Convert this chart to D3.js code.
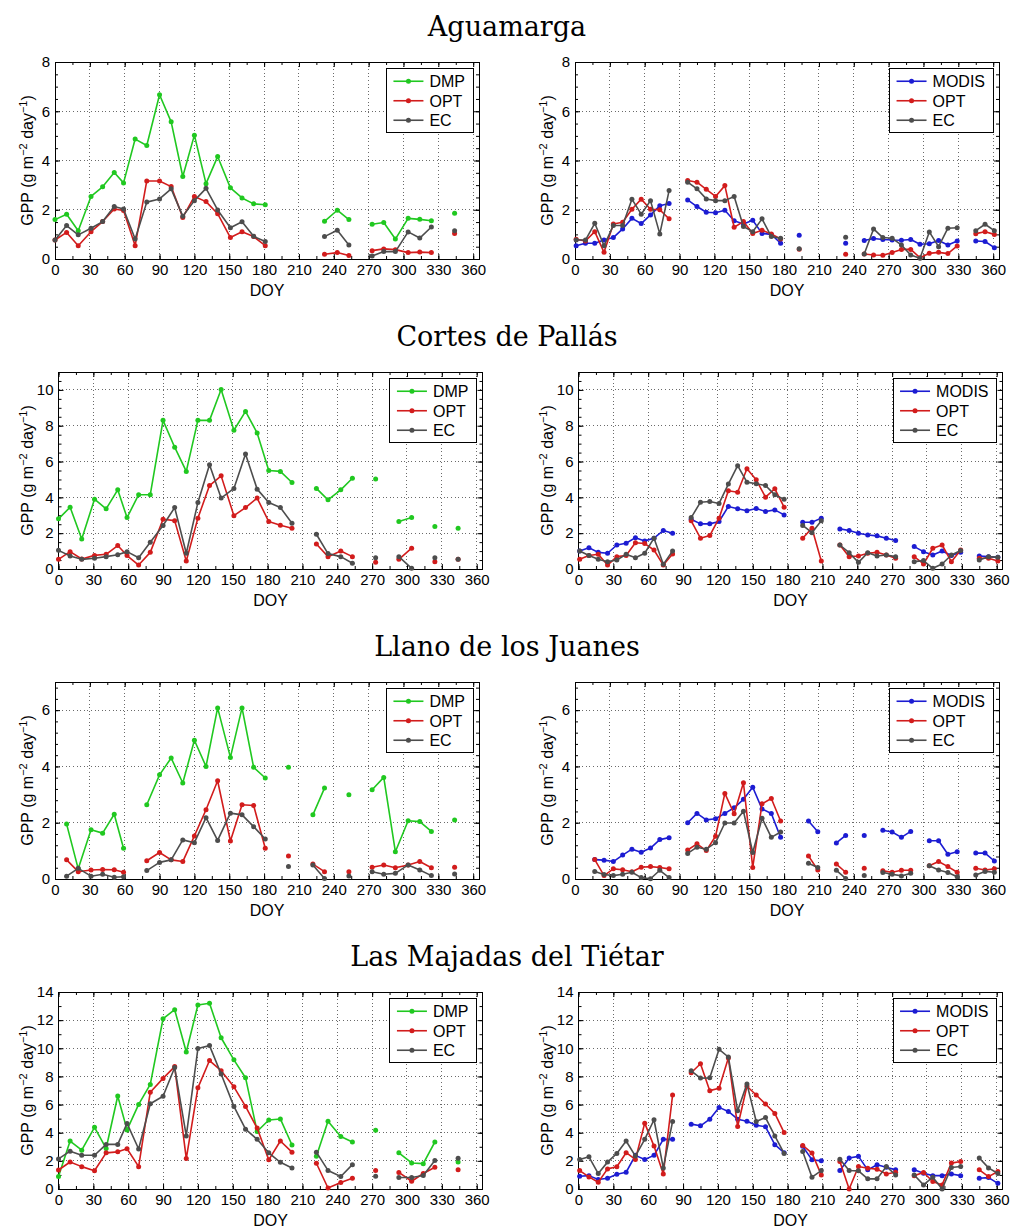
<!DOCTYPE html>
<html>
<head>
<meta charset="utf-8">
<script src="https://cdn.jsdelivr.net/npm/d3@7"></script>
<style>
  body { margin: 0; background: #ffffff; }
</style>
</head>
<body>
<svg id="fig" width="1012" height="1228"></svg>
<script>
// ---- Day-of-year positions of the composites ----
// 10-day (dekadal) composites
const DEKAD_DOY = [0,10,20,31,41,51,59,69,79,90,100,110,120,130,140,151,161,171,181,191,201,212,222,232,243,253,263,273,283,293,304,314,324,334,344,354];
// 8-day composites
const MODIS_DOY = [1,9,17,25,33,41,49,57,65,73,81,89,97,105,113,121,129,137,145,153,161,169,177,185,193,201,209,217,225,233,241,249,257,265,273,281,289,297,305,313,321,329,337,345,353,361];

const X_TICKS = [0,30,60,90,120,150,180,210,240,270,300,330,360];

const SITES = ["Aguamarga", "Cortes de Pallás", "Llano de los Juanes", "Las Majadas del Tiétar"];
const Y_MAX = [8, 11, 7, 14];
const Y_TICKS = [[0,2,4,6,8], [0,2,4,6,8,10], [0,2,4,6], [0,2,4,6,8,10,12,14]];
const Y_MINOR_STEP = [0.5, 0.5, 0.4, 1];

// ---- Aguamarga ----
const agu_DMP = [1.60,1.82,1.15,2.54,2.93,3.51,3.09,4.87,4.61,6.67,5.57,3.35,5.03,3.06,4.16,2.89,2.48,2.24,2.20,null,null,null,null,1.53,1.98,1.60,null,1.41,1.48,0.81,1.65,1.61,1.55,null,1.86,null];
const agu_OPT_dek = [0.77,1.08,0.54,1.11,1.52,2.03,1.97,0.54,3.17,3.17,2.94,1.69,2.54,2.33,1.84,0.87,1.11,0.91,0.54,null,null,null,null,0.19,0.26,0.14,null,0.34,0.41,0.38,0.26,0.28,0.26,null,1.04,null];
const agu_EC_dek = [0.77,1.36,0.98,1.25,1.52,2.13,2.03,0.81,2.31,2.44,2.85,1.74,2.37,2.87,1.99,1.27,1.51,0.92,0.71,null,null,null,null,0.91,1.17,0.57,null,0.12,0.30,0.30,1.10,0.85,1.30,null,1.15,null];
const agu_MODIS = [0.54,0.64,0.64,0.77,0.87,1.22,1.65,1.44,1.79,2.16,2.25,null,2.40,2.13,1.90,1.88,1.98,1.55,1.42,1.57,1.04,1.00,0.64,null,0.96,null,null,null,null,0.64,null,0.75,0.83,0.79,0.77,0.76,0.79,0.60,0.62,0.75,0.57,0.73,null,0.73,0.71,0.46];
const agu_OPT_8d = [0.80,0.73,1.11,0.27,1.42,1.49,2.02,2.43,2.02,2.00,1.63,null,3.19,3.12,2.83,2.54,2.98,1.29,1.52,1.04,1.17,1.02,0.81,null,0.40,null,null,null,null,0.19,null,0.20,0.16,0.15,0.26,0.39,0.39,0.05,0.23,0.27,0.22,0.53,null,1.03,1.11,1.00];
const agu_EC_8d = [0.77,0.77,1.45,0.54,1.36,1.36,2.43,1.82,2.37,1.02,2.78,null,3.12,2.85,2.44,2.37,2.37,2.54,1.32,1.11,1.63,0.91,0.84,null,0.42,null,null,null,null,0.88,null,0.20,1.22,0.87,0.84,0.57,0.16,0.03,1.10,0.50,1.25,1.27,null,1.15,1.41,1.15];

// ---- Cortes de Pallás ----
const cor_DMP = [2.80,3.45,1.68,3.90,3.36,4.42,2.87,4.15,4.15,8.30,6.80,5.45,8.30,8.30,10.02,7.75,8.80,7.60,5.50,5.45,4.83,null,4.50,3.86,4.42,5.07,null,5.02,null,2.65,2.87,null,2.37,null,2.28,null];
const cor_OPT_dek = [0.54,0.97,0.56,0.76,0.82,1.31,0.75,0.22,0.93,2.78,2.70,0.45,2.84,4.66,5.20,2.98,3.43,3.96,2.65,2.44,2.28,null,1.40,0.69,1.00,0.69,null,0.37,null,0.54,1.16,null,0.41,null,0.54,null];
const cor_EC_dek = [1.04,0.73,0.54,0.60,0.69,0.80,0.97,0.63,1.49,2.43,3.43,0.88,3.71,5.82,3.96,4.50,6.42,4.46,3.71,3.43,2.56,null,1.94,0.86,0.69,0.32,null,0.63,null,0.69,0.04,null,0.63,null,0.54,null];
const cor_MODIS = [1.01,1.19,0.93,0.88,1.34,1.44,1.75,1.57,1.72,2.15,2.00,null,2.78,2.52,2.52,2.65,3.49,3.36,3.25,3.38,3.21,3.30,3.02,null,2.61,2.61,2.84,null,2.24,2.15,2.00,1.90,1.85,1.72,1.59,null,1.25,0.97,0.78,1.01,0.75,0.93,null,0.73,0.69,0.65];
const cor_OPT_8d = [0.54,0.75,0.82,0.22,0.69,0.75,1.47,1.42,1.06,0.22,0.84,null,2.69,1.72,1.87,2.84,4.37,4.29,5.60,4.98,4.01,4.48,3.45,null,1.72,2.28,0.45,null,1.34,0.69,0.73,0.88,0.93,0.78,0.60,null,0.69,0.28,1.16,1.34,0.41,1.06,null,0.60,0.60,0.45];
const cor_EC_8d = [1.01,0.75,0.54,0.41,0.50,0.82,0.63,0.88,1.72,0.26,1.01,null,2.87,3.73,3.77,3.66,4.74,5.77,4.85,4.76,4.66,4.14,3.90,null,2.43,2.03,2.70,null,1.34,0.91,0.37,0.91,0.73,0.78,0.69,null,0.41,0.47,0.04,0.28,0.78,1.03,null,0.50,0.69,0.65];

// ---- Llano de los Juanes ----
const lla_DMP = [null,1.95,0.36,1.75,1.63,2.30,1.09,null,2.64,3.70,4.30,3.41,4.93,4.00,6.08,4.32,6.08,3.97,3.59,null,3.97,null,2.28,3.23,null,2.99,null,3.17,3.61,0.97,2.07,2.04,1.69,null,2.10,null];
const lla_OPT_dek = [null,0.68,0.26,0.32,0.34,0.33,0.24,null,0.65,0.94,0.68,0.62,1.53,2.46,3.49,1.35,2.64,2.61,1.09,null,0.82,null,0.53,0.26,null,0.26,null,0.42,0.50,0.40,0.50,0.62,0.40,null,0.42,null];
const lla_EC_dek = [null,0.10,0.38,0.10,0.17,0.06,0.08,null,0.30,0.59,0.68,1.39,1.29,2.18,1.37,2.34,2.28,1.86,1.42,null,0.44,null,0.50,0.02,null,0.11,null,0.26,0.17,0.20,0.50,0.32,0.12,null,0.18,null];
const lla_MODIS = [null,null,0.69,0.67,0.62,0.85,1.06,0.95,1.10,1.40,1.47,null,2.00,2.33,2.10,2.14,2.33,2.53,2.83,3.26,2.49,2.33,1.48,null,null,2.06,1.68,null,1.28,1.55,null,1.55,null,1.73,1.67,1.48,1.69,null,1.36,1.36,0.88,0.97,null,0.92,0.92,0.64];
const lla_OPT_8d = [null,null,0.69,0.12,0.36,0.33,0.26,0.42,0.44,0.41,0.36,null,1.03,1.25,1.01,1.52,3.04,2.32,3.42,0.41,2.67,2.86,2.06,null,null,0.82,0.32,null,0.53,0.24,null,0.38,null,0.29,0.24,0.31,0.31,null,0.47,0.62,0.44,0.24,null,0.38,0.32,0.36];
const lla_EC_8d = [null,null,0.27,0.16,0.12,0.17,0.24,0.05,0.01,0.31,0.05,null,0.91,1.13,1.06,1.29,1.99,1.99,2.41,0.94,2.16,1.48,1.67,null,null,0.56,0.41,null,0.31,0.02,null,0.12,null,0.23,0.17,0.11,0.20,null,0.47,0.32,0.23,0.08,null,0.14,0.27,0.24];

// ---- Las Majadas del Tiétar ----
const maj_DMP = [0.89,3.41,2.76,4.38,2.88,6.61,4.20,6.01,7.43,12.10,12.74,9.74,13.08,13.20,10.75,9.18,7.91,4.09,4.90,4.98,3.13,null,2.33,4.81,3.73,3.34,null,4.18,null,2.57,1.85,1.80,3.34,null,1.92,null];
const maj_OPT_dek = [1.35,1.92,1.59,1.30,2.57,2.64,2.86,1.59,6.88,7.86,8.70,2.16,7.19,9.13,8.41,7.26,5.87,4.33,2.07,3.41,2.62,null,1.83,0.07,0.46,0.77,null,1.32,null,1.18,0.55,1.10,1.54,null,1.37,null];
const maj_EC_dek = [2.14,2.69,2.40,2.40,3.17,3.17,4.66,2.84,6.06,6.59,8.63,3.77,9.98,10.19,8.17,5.87,4.25,3.53,2.57,1.90,1.49,null,2.62,1.32,0.89,1.73,null,0.91,null,0.82,0.82,0.96,2.02,null,2.19,null];
const maj_MODIS = [0.91,0.95,0.67,0.76,1.05,1.19,2.39,2.10,2.39,3.53,3.53,null,4.61,4.49,4.96,5.80,5.51,4.96,4.82,4.53,4.42,3.15,2.58,null,3.03,2.08,2.00,null,1.31,2.20,2.32,1.36,1.72,1.55,1.36,null,1.36,1.12,0.95,0.95,1.07,0.95,null,0.76,0.81,0.40];
const maj_OPT_8d = [1.31,0.86,0.48,1.43,1.58,2.58,2.10,4.68,3.05,1.07,6.68,null,8.26,8.90,6.99,7.16,9.31,4.44,7.30,6.68,6.04,5.37,4.01,null,3.10,2.55,1.00,null,1.96,0.00,1.60,1.48,1.41,1.07,1.19,null,0.95,1.17,0.53,0.29,1.84,1.96,null,1.36,0.88,1.24];
const maj_EC_8d = [2.10,2.29,1.10,1.91,2.53,3.41,2.34,3.53,4.92,1.50,4.80,null,8.40,7.88,7.90,9.93,9.38,5.56,7.47,4.80,5.08,3.77,2.53,null,2.67,0.84,1.31,null,2.12,1.31,1.29,0.72,0.72,1.60,1.00,null,1.00,0.29,0.84,0.00,1.53,1.60,null,2.20,1.50,1.10];

const COLORS = { DMP: "#20c820", MODIS: "#1c1cd2", OPT: "#d21c1c", EC: "#4d4d4d" };

// Series shown in each site's left (dekadal) and right (8-day) panel
const PANELS = [
  { left:  [["DMP", agu_DMP], ["OPT", agu_OPT_dek], ["EC", agu_EC_dek]],
    right: [["MODIS", agu_MODIS], ["OPT", agu_OPT_8d], ["EC", agu_EC_8d]] },
  { left:  [["DMP", cor_DMP], ["OPT", cor_OPT_dek], ["EC", cor_EC_dek]],
    right: [["MODIS", cor_MODIS], ["OPT", cor_OPT_8d], ["EC", cor_EC_8d]] },
  { left:  [["DMP", lla_DMP], ["OPT", lla_OPT_dek], ["EC", lla_EC_dek]],
    right: [["MODIS", lla_MODIS], ["OPT", lla_OPT_8d], ["EC", lla_EC_8d]] },
  { left:  [["DMP", maj_DMP], ["OPT", maj_OPT_dek], ["EC", maj_EC_dek]],
    right: [["MODIS", maj_MODIS], ["OPT", maj_OPT_8d], ["EC", maj_EC_8d]] }
];

// ---- layout ----
const PLOT_W = 424, PLOT_H = 197;
const ROW_TOP = [62, 372, 682, 992];
const LEFT_X = [55, 58.5, 55, 58.5];
const COL_SHIFT = 520;
const FONT = 15;
const SANS = "Liberation Sans, Arial, sans-serif";
const SERIF = "DejaVu Serif, serif";

const svg = d3.select("#fig").style("font-family", SANS);
svg.append("rect").attr("width", 1012).attr("height", 1228).attr("fill", "#fff");

function drawPanel(x0, y0, row, series, days, labelX) {
  const g = svg.append("g");
  const x = d3.scaleLinear().domain([0, 365]).range([x0, x0 + PLOT_W]);
  const y = d3.scaleLinear().domain([0, Y_MAX[row]]).range([y0 + PLOT_H, y0]);
  const yMinor = d3.range(0, Y_MAX[row] + 1e-9, Y_MINOR_STEP[row]).map(v => +v.toFixed(3));
  const xMinor = d3.range(0, 366, 15);

  // dotted grid at the major ticks
  const grid = g.append("g").attr("stroke", "#6a6a6a").attr("stroke-width", 1)
    .attr("stroke-dasharray", "1,2.6").attr("shape-rendering", "crispEdges");
  X_TICKS.forEach(t => grid.append("line")
    .attr("x1", x(t)).attr("x2", x(t)).attr("y1", y0).attr("y2", y0 + PLOT_H));
  Y_TICKS[row].forEach(t => grid.append("line")
    .attr("x1", x0).attr("x2", x0 + PLOT_W).attr("y1", y(t)).attr("y2", y(t)));

  // axes with inward ticks, mirrored on the top and right sides
  const addAxis = (gen, tr, label) => {
    const a = g.append("g").attr("transform", tr).call(gen);
    a.select(".domain").remove();
    a.selectAll("line").attr("stroke", "#000");
    a.selectAll("text").attr("font-size", FONT).attr("fill", "#000").style("font-family", SANS);
    if (!label) a.selectAll("text").remove();
    return a;
  };
  const bottom = `translate(0,${y0 + PLOT_H})`, top = `translate(0,${y0})`;
  const left = `translate(${x0},0)`, right = `translate(${x0 + PLOT_W},0)`;
  addAxis(d3.axisBottom(x).tickValues(X_TICKS).tickSize(-5).tickPadding(5).tickFormat(d3.format("d")), bottom, true);
  addAxis(d3.axisBottom(x).tickValues(xMinor).tickSize(-3).tickFormat(""), bottom, false);
  addAxis(d3.axisTop(x).tickValues(X_TICKS).tickSize(-5).tickFormat(""), top, false);
  addAxis(d3.axisTop(x).tickValues(xMinor).tickSize(-3).tickFormat(""), top, false);
  addAxis(d3.axisLeft(y).tickValues(Y_TICKS[row]).tickSize(-5).tickPadding(5).tickFormat(d3.format("d")), left, true);
  addAxis(d3.axisLeft(y).tickValues(yMinor).tickSize(-3).tickFormat(""), left, false);
  addAxis(d3.axisRight(y).tickValues(Y_TICKS[row]).tickSize(-5).tickFormat(""), right, false);
  addAxis(d3.axisRight(y).tickValues(yMinor).tickSize(-3).tickFormat(""), right, false);

  g.append("rect").attr("x", x0).attr("y", y0).attr("width", PLOT_W).attr("height", PLOT_H)
    .attr("fill", "none").attr("stroke", "#000").attr("stroke-width", 1).attr("shape-rendering", "crispEdges");

  // series: lines broken at missing composites, dots on every value
  const line = d3.line().defined(d => d.v != null).x(d => x(d.d)).y(d => y(d.v));
  series.forEach(([name, vals]) => {
    const pts = vals.map((v, i) => ({ d: days[i], v }));
    g.append("path").datum(pts).attr("d", line).attr("fill", "none")
      .attr("stroke", COLORS[name]).attr("stroke-width", 1.6).attr("stroke-linejoin", "round");
    g.append("g").selectAll("circle").data(pts.filter(p => p.v != null)).join("circle")
      .attr("cx", p => x(p.d)).attr("cy", p => y(p.v)).attr("r", 2.5).attr("fill", COLORS[name]);
  });

  // axis titles
  g.append("text").attr("x", x0 + PLOT_W / 2).attr("y", y0 + PLOT_H + 37)
    .attr("text-anchor", "middle").attr("font-size", FONT + 1).text("DOY");
  const yl = g.append("text").attr("transform", `translate(${labelX},${y0 + PLOT_H / 2}) rotate(-90)`)
    .attr("text-anchor", "middle").attr("font-size", FONT + 1);
  yl.append("tspan").text("GPP (g m");
  yl.append("tspan").attr("dy", -6).attr("font-size", 11).text("\u22122");
  yl.append("tspan").attr("dy", 6).text(" day");
  yl.append("tspan").attr("dy", -6).attr("font-size", 11).text("\u22121");
  yl.append("tspan").attr("dy", 6).text(")");

  // legend box in the upper right corner
  const names = series.map(s => s[0]);
  const lg = g.append("g");
  const tmp = lg.append("g");
  const widths = names.map(n => {
    const t = tmp.append("text").attr("font-size", FONT + 1).text(n);
    return t.node().getComputedTextLength();
  });
  tmp.remove();
  const lineLen = 30, padL = 7, gap = 6, padR = 8, rowH = 19.5;
  const boxW = padL + lineLen + gap + d3.max(widths) + padR;
  const boxH = rowH * names.length + 6;
  const bx = x0 + PLOT_W - 6 - boxW, by = y0 + 6;
  lg.append("rect").attr("x", bx).attr("y", by).attr("width", boxW).attr("height", boxH)
    .attr("fill", "#fff").attr("stroke", "#000").attr("stroke-width", 1).attr("shape-rendering", "crispEdges");
  names.forEach((n, i) => {
    const cy = by + 3 + rowH * (i + 0.5) + 0.5;
    lg.append("line").attr("x1", bx + padL).attr("x2", bx + padL + lineLen).attr("y1", cy).attr("y2", cy)
      .attr("stroke", COLORS[n]).attr("stroke-width", 1.6);
    lg.append("circle").attr("cx", bx + padL + lineLen / 2).attr("cy", cy).attr("r", 2.5).attr("fill", COLORS[n]);
    lg.append("text").attr("x", bx + padL + lineLen + gap).attr("y", cy).attr("dy", "0.36em")
      .attr("font-size", FONT + 1).text(n);
  });
}

SITES.forEach((site, r) => {
  svg.append("text").attr("x", 507).attr("y", ROW_TOP[r] - 26).attr("text-anchor", "middle")
    .style("font-family", SERIF).attr("font-size", 27).attr("fill", "#000").text(site);
  drawPanel(LEFT_X[r], ROW_TOP[r], r, PANELS[r].left, DEKAD_DOY, 33);
  drawPanel(LEFT_X[r] + COL_SHIFT, ROW_TOP[r], r, PANELS[r].right, MODIS_DOY, 33 + COL_SHIFT);
});
</script>
</body>
</html>
